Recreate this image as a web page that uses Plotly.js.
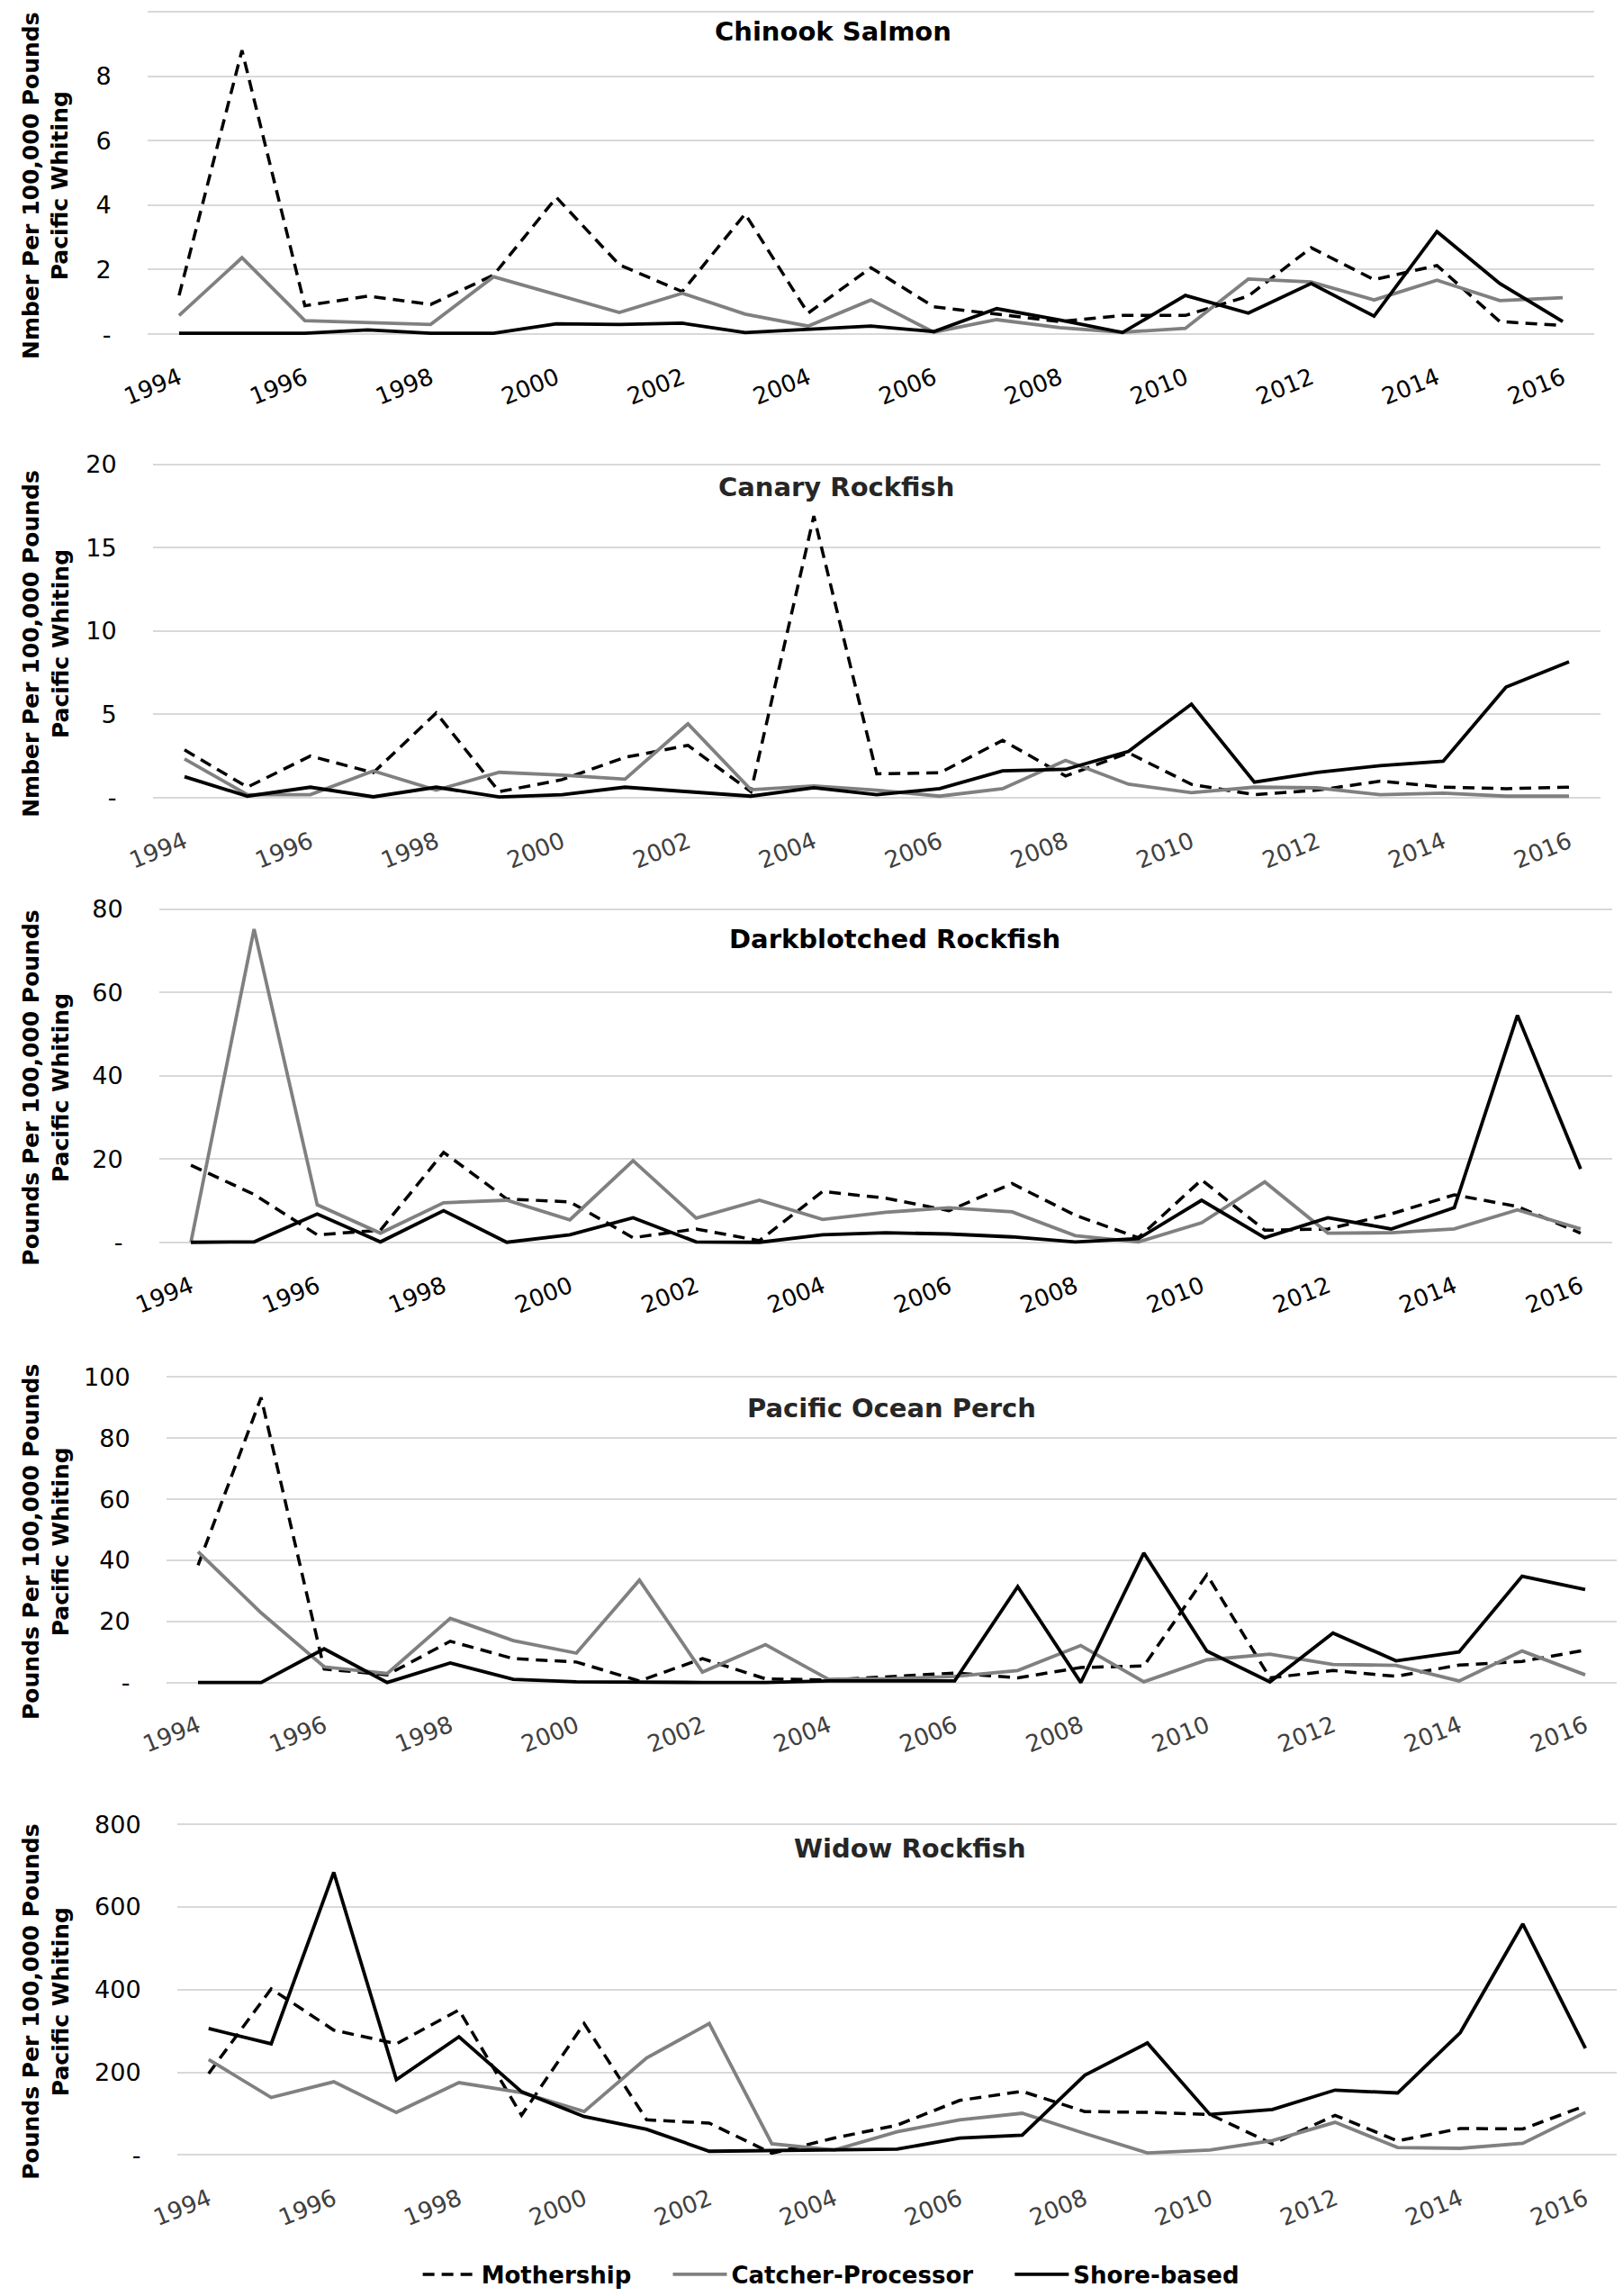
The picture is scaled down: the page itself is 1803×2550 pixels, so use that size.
<!DOCTYPE html>
<html>
<head>
<meta charset="utf-8">
<script src="https://cdn.plot.ly/plotly-3.0.1.min.js"></script>
<style>html,body{margin:0;padding:0;background:#fff;}#chart{width:1803px;height:2550px;}</style>
</head>
<body>
<div id="chart"></div>
<script>
// ---------- DATA ----------
const years = [1994,1995,1996,1997,1998,1999,2000,2001,2002,2003,2004,2005,2006,2007,2008,2009,2010,2011,2012,2013,2014,2015,2016];
const xTickYears = [1994,1996,1998,2000,2002,2004,2006,2008,2010,2012,2014,2016];
const seriesNames = ["Mothership", "Catcher-Processor", "Shore-based"];
const panelTitles = ["Chinook Salmon", "Canary Rockfish", "Darkblotched Rockfish", "Pacific Ocean Perch", "Widow Rockfish"];
const yTitles = [
  "Nmber Per 100,000 Pounds<br>Pacific Whiting",
  "Nmber Per 100,000 Pounds<br>Pacific Whiting",
  "Pounds Per 100,000 Pounds<br>Pacific Whiting",
  "Pounds Per 100,000 Pounds<br>Pacific Whiting",
  "Pounds Per 100,000 Pounds<br>Pacific Whiting"
];

const chinookMothership = [1.2, 8.8, 0.88, 1.18, 0.92, 1.83, 4.24, 2.15, 1.32, 3.73, 0.65, 2.06, 0.85, 0.62, 0.39, 0.58, 0.58, 1.18, 2.68, 1.69, 2.13, 0.39, 0.27];
const chinookCatcher    = [0.58, 2.37, 0.42, 0.36, 0.30, 1.78, 1.23, 0.67, 1.27, 0.62, 0.25, 1.06, 0.06, 0.45, 0.20, 0.06, 0.18, 1.71, 1.62, 1.06, 1.67, 1.04, 1.13];
const chinookShore      = [0.03, 0.03, 0.03, 0.13, 0.03, 0.03, 0.32, 0.30, 0.34, 0.05, 0.15, 0.25, 0.08, 0.79, 0.44, 0.05, 1.20, 0.65, 1.57, 0.56, 3.18, 1.57, 0.39];

const canaryMothership = [2.87, 0.63, 2.5, 1.5, 5.08, 0.36, 1.08, 2.42, 3.14, 0.36, 16.9, 1.43, 1.49, 3.44, 1.3, 2.69, 0.8, 0.18, 0.45, 0.99, 0.63, 0.54, 0.63];
const canaryCatcher    = [2.33, 0.18, 0.18, 1.6, 0.45, 1.52, 1.35, 1.11, 4.43, 0.48, 0.7, 0.45, 0.09, 0.54, 2.24, 0.81, 0.3, 0.63, 0.59, 0.18, 0.27, 0.09, 0.09];
const canaryShore      = [1.26, 0.09, 0.63, 0.05, 0.63, 0.04, 0.18, 0.63, 0.36, 0.09, 0.6, 0.18, 0.54, 1.61, 1.7, 2.78, 5.61, 0.93, 1.52, 1.92, 2.19, 6.64, 8.16];

const darkMothership = [18.5, 11.5, 1.8, 2.9, 21.6, 10.4, 9.7, 1.1, 3.2, 0.4, 12.2, 10.6, 7.6, 14.1, 6.5, 1.1, 15.0, 2.9, 3.2, 6.8, 11.4, 8.6, 2.2];
const darkCatcher    = [0, 75.2, 9.0, 2.2, 9.5, 10.1, 5.4, 19.6, 5.8, 10.1, 5.5, 7.2, 8.3, 7.3, 1.6, 0.1, 4.7, 14.5, 2.2, 2.3, 3.2, 7.8, 3.2];
const darkShore      = [0, 0.1, 6.8, 0.1, 7.6, 0, 1.8, 5.9, 0.1, 0, 1.8, 2.3, 2.0, 1.3, 0.1, 0.9, 10.1, 1.1, 5.9, 3.2, 8.3, 54.5, 17.6];

const popMothership = [38.4, 93.3, 4.4, 2.5, 13.5, 7.8, 6.7, 0.5, 7.8, 1.2, 0.8, 2.0, 3.1, 1.5, 4.9, 5.4, 35.3, 1.5, 3.9, 2.0, 5.7, 6.9, 10.6];
const popCatcher    = [42.8, 22.8, 5.1, 2.9, 21.0, 13.7, 9.6, 33.5, 3.4, 12.4, 1.0, 1.2, 2.0, 3.9, 12.1, 0.2, 7.4, 9.3, 5.9, 5.6, 0.5, 10.3, 2.5];
const popShore      = [0, 0, 11.0, 0, 6.4, 1.0, 0.2, 0, 0, 0, 0.5, 0.5, 0.5, 31.4, 0, 42.4, 10.3, 0.2, 16.2, 7.1, 10.0, 34.8, 30.4];

const widowMothership = [197, 402, 302, 269, 351, 96, 318, 85, 77, 4, 41, 72, 132, 154, 105, 103, 98, 27, 96, 34, 64, 63, 119];
const widowCatcher    = [231, 139, 177, 103, 175, 151, 105, 235, 318, 27, 12, 56, 85, 101, 52, 5, 12, 35, 79, 18, 16, 28, 103];
const widowShore      = [306, 269, 684, 182, 286, 153, 93, 62, 9, 11, 14, 14, 41, 48, 193, 271, 98, 110, 157, 150, 296, 559, 258];

const yTickVals = [
  [0, 2, 4, 6, 8, 10],
  [0, 5, 10, 15, 20],
  [0, 20, 40, 60, 80],
  [0, 20, 40, 60, 80, 100],
  [0, 200, 400, 600, 800]
];
const yTickText = [
  ["-", "2", "4", "6", "8", "10"],
  ["-", "5", "10", "15", "20"],
  ["-", "20", "40", "60", "80"],
  ["-", "20", "40", "60", "80", "100"],
  ["-", "200", "400", "600", "800"]
];

const panelData = [
  [chinookMothership, chinookCatcher, chinookShore],
  [canaryMothership, canaryCatcher, canaryShore],
  [darkMothership, darkCatcher, darkShore],
  [popMothership, popCatcher, popShore],
  [widowMothership, widowCatcher, widowShore]
];

// ---------- STYLE / LAYOUT ----------
const W = 1803, H = 2550;
const FONT = "DejaVu Sans, Verdana, sans-serif";
// pixel extents of each plot area
const panelLeftPx  = [164, 170, 177, 185, 197];
const panelRightPx = [1771, 1778, 1791, 1796, 1796];
const panelTopPx   = [13, 517, 1012, 1533, 2031];
const panelZeroPx  = [372, 888, 1383, 1873, 2399];
const titleXPx = [925, 929, 994, 991, 1011];
const titleYPx = [35, 542, 1045, 1568, 2058];
const titleColors = ["#000000", "#262626", "#000000", "#262626", "#262626"];
const xTickColors = ["#000000", "#404040", "#000000", "#404040", "#404040"];

const lineStyles = [
  {color: "#000000", width: 3.5, dash: "13px,8px"},
  {color: "#808080", width: 3.8, dash: "solid"},
  {color: "#000000", width: 3.8, dash: "solid"}
];
const legendPad = ["\u00a0\u00a0\u00a0\u00a0", "\u00a0\u00a0\u00a0\u00a0", ""];

const traces = [];
const layout = {
  width: W, height: H,
  margin: {l: 0, r: 0, t: 0, b: 0},
  paper_bgcolor: "#ffffff",
  plot_bgcolor: "#ffffff",
  showlegend: true,
  legend: {
    orientation: "h",
    x: 0.512, xanchor: "center",
    y: 1 - 2532 / H, yanchor: "middle",
    font: {family: FONT, size: 26, color: "#000", weight: "bold"},
    itemwidth: 60,
    traceorder: "normal"
  },
  annotations: []
};

const padBottom = 0.03, padTop = 0.006;
for (let i = 0; i < 5; i++) {
  const sfx = i === 0 ? "" : String(i + 1);
  const maxV = yTickVals[i][yTickVals[i].length - 1];
  const top = panelTopPx[i], zero = panelZeroPx[i];
  const span = zero - top;
  const botPx = zero + padBottom * span;
  const topPx = top - padTop * span;
  layout["xaxis" + sfx] = {
    domain: [panelLeftPx[i] / W, panelRightPx[i] / W],
    anchor: "y" + sfx,
    range: [1993.5, 2016.5],
    tickmode: "array",
    tickvals: xTickYears,
    ticktext: xTickYears.map(String),
    tickangle: -22,
    ticks: "outside", ticklen: 12, tickcolor: "rgba(0,0,0,0)",
    showgrid: false, zeroline: false, showline: false,
    tickfont: {family: FONT, size: 26, color: xTickColors[i]}
  };
  layout["yaxis" + sfx] = {
    domain: [1 - botPx / H, 1 - topPx / H],
    anchor: "x" + sfx,
    range: [-padBottom * maxV, maxV * (1 + padTop)],
    tickmode: "array",
    tickvals: yTickVals[i],
    ticktext: yTickText[i],
    showgrid: true, gridcolor: "#d9d9d9", gridwidth: 2,
    zeroline: false, showline: false,
    ticks: "outside", ticklen: 34, tickcolor: "rgba(0,0,0,0)",
    tickfont: {family: FONT, size: 27, color: "#000"}
  };
  // panel title
  layout.annotations.push({
    xref: "paper", yref: "paper",
    x: titleXPx[i] / W, y: 1 - titleYPx[i] / H,
    xanchor: "center", yanchor: "middle",
    text: "<b>" + panelTitles[i] + "</b>",
    showarrow: false,
    font: {family: FONT, size: 29, color: titleColors[i]}
  });
  // y-axis title
  layout.annotations.push({
    xref: "paper", yref: "paper",
    x: 51 / W, y: 1 - ((top + zero) / 2 + 14) / H,
    xanchor: "center", yanchor: "middle",
    textangle: -90,
    text: "<b>" + yTitles[i] + "</b>",
    showarrow: false,
    font: {family: FONT, size: 25, color: "#000"}
  });
  for (let s = 0; s < 3; s++) {
    traces.push({
      type: "scatter", mode: "lines",
      x: years, y: panelData[i][s],
      name: seriesNames[s] + legendPad[s],
      xaxis: "x" + sfx, yaxis: "y" + sfx,
      showlegend: i === 0,
      line: Object.assign({}, lineStyles[s]),
      hoverinfo: "skip"
    });
  }
}

Plotly.newPlot("chart", traces, layout, {staticPlot: true, displayModeBar: false});
</script>
</body>
</html>
